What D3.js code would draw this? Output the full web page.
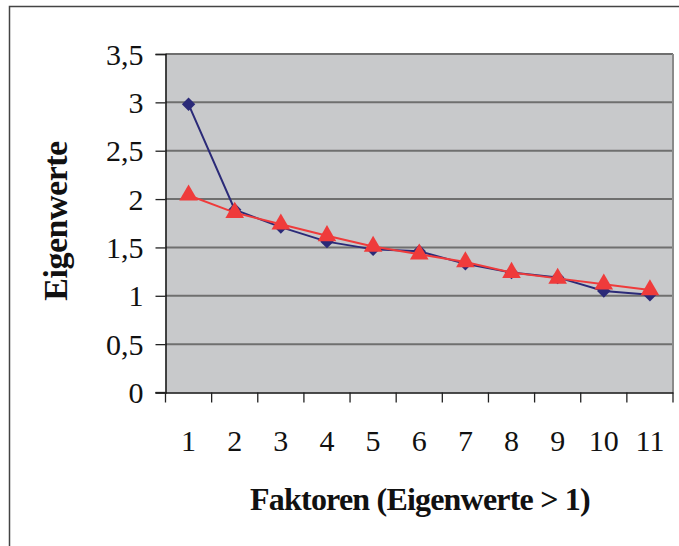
<!DOCTYPE html>
<html><head><meta charset="utf-8">
<script src="https://cdn.jsdelivr.net/npm/d3@7"></script>
<style>html,body{margin:0;padding:0;background:#fff;}svg{display:block;}</style>
</head><body>
<script>
const categories = ["1","2","3","4","5","6","7","8","9","10","11"];
const eigenwerte = [2.98, 1.89, 1.71, 1.56, 1.48, 1.46, 1.33, 1.24, 1.19, 1.05, 1.01];
const zufall = [2.04, 1.86, 1.74, 1.62, 1.51, 1.43, 1.35, 1.24, 1.18, 1.12, 1.06];
const yTicks = [0, 0.5, 1, 1.5, 2, 2.5, 3, 3.5];
const xTitle = "Faktoren (Eigenwerte > 1)";
const yTitle = "Eigenwerte";

const W = 679, H = 546;
const L = 165.5, R = 673, T = 54, B = 392.5;
const font = "'Liberation Serif','Times New Roman',serif";

const svg = d3.select("body").append("svg").attr("width", W).attr("height", H);

// outer frame
svg.append("path").attr("d", `M9.5,${H} V6.5 H${W}`).attr("fill","none").attr("stroke","#444").attr("stroke-width",1.5);

const x = d3.scaleBand().domain(categories).range([L, R]);
const y = d3.scaleLinear().domain([0, 3.5]).range([B, T]);

svg.append("rect").attr("x", L).attr("y", T).attr("width", R - L).attr("height", B - T).attr("fill", "#c8c9cb");

// gridlines
svg.append("g").selectAll("line").data(yTicks.filter(d => d > 0)).join("line")
  .attr("x1", L).attr("x2", R).attr("y1", d => y(d)).attr("y2", d => y(d))
  .attr("stroke", "#6f6f6f").attr("stroke-width", 2);
// right border
svg.append("line").attr("x1", R).attr("x2", R).attr("y1", T).attr("y2", B).attr("stroke", "#8a8a8a").attr("stroke-width", 2);

// y axis
const yAxis = d3.axisLeft(y).tickValues(yTicks).tickSize(10).tickFormat(d => String(d).replace(".", ","));
const gy = svg.append("g").attr("transform", `translate(${L},0)`).call(yAxis);
gy.select(".domain").attr("stroke", "#111").attr("stroke-width", 1.5);
gy.selectAll(".tick line").attr("stroke", "#222").attr("stroke-width", 1.3);
gy.selectAll(".tick text").attr("font-family", font).attr("font-size", 30).attr("fill", "#111").attr("x", -22).attr("dy", "0.34em");

// x axis
const xAxis = d3.axisBottom(x).tickSize(0).tickFormat(d => d);
const gx = svg.append("g").attr("transform", `translate(0,${B})`).call(xAxis);
gx.select(".domain").attr("stroke", "#111").attr("stroke-width", 1.5);
gx.selectAll(".tick text").attr("font-family", font).attr("font-size", 30).attr("fill", "#111").attr("y", 58).attr("dy", 0);
// category boundary ticks
const bounds = categories.map(c => x(c)).concat([R]);
svg.append("g").selectAll("line").data(bounds).join("line")
  .attr("x1", d => d).attr("x2", d => d).attr("y1", B).attr("y2", B + 10)
  .attr("stroke", "#222").attr("stroke-width", 1.3);
svg.append("line").attr("x1", L - 10).attr("x2", L).attr("y1", B).attr("y2", B).attr("stroke", "#222").attr("stroke-width", 1.3);

const cx = c => x(c) + x.bandwidth() / 2;

function drawSeries(vals, color, sym, size) {
  const pts = vals.map((v, i) => [cx(categories[i]), y(v)]);
  svg.append("path").datum(pts).attr("d", d3.line()).attr("fill", "none").attr("stroke", color).attr("stroke-width", 2);
  svg.append("g").selectAll("path").data(pts).join("path")
    .attr("transform", d => `translate(${d[0]},${d[1]})`)
    .attr("d", d3.symbol().type(sym).size(size)).attr("fill", color);
}
drawSeries(eigenwerte, "#2b2a78", d3.symbolDiamond2, 115);
drawSeries(zufall, "#ef3b3b", d3.symbolTriangle, 150);

// titles
svg.append("text").attr("x", 420).attr("y", 510).attr("text-anchor", "middle")
  .attr("font-family", font).attr("font-weight", "bold").attr("font-size", 32).attr("letter-spacing", -0.8)
  .attr("fill", "#111").text(xTitle);
svg.append("text").attr("transform", "translate(67,221) rotate(-90)").attr("text-anchor", "middle")
  .attr("font-family", font).attr("font-weight", "bold").attr("font-size", 34).attr("letter-spacing", -0.5)
  .attr("fill", "#111").text(yTitle);
</script>
</body></html>
